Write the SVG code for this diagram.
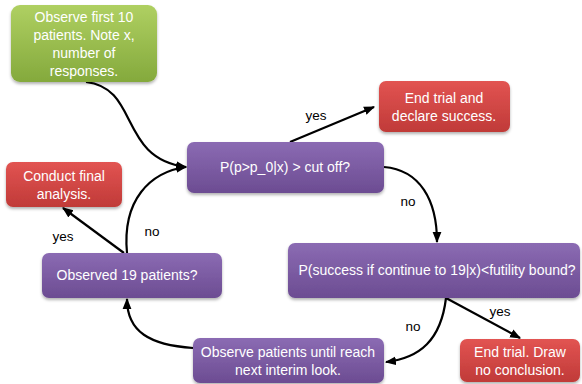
<svg xmlns="http://www.w3.org/2000/svg" width="582" height="384" viewBox="0 0 582 384">
<defs>
<linearGradient id="gGreen" x1="0" y1="0" x2="0" y2="1"><stop offset="0" stop-color="#afd062"/><stop offset="1" stop-color="#84a93c"/></linearGradient>
<linearGradient id="gPurple" x1="0" y1="0" x2="0" y2="1"><stop offset="0" stop-color="#8b6bb3"/><stop offset="1" stop-color="#6c4c92"/></linearGradient>
<linearGradient id="gRed" x1="0" y1="0" x2="0" y2="1"><stop offset="0" stop-color="#e25452"/><stop offset="1" stop-color="#c03a38"/></linearGradient>
<filter id="sh" x="-10%" y="-10%" width="120%" height="130%"><feDropShadow dx="0" dy="2" stdDeviation="1.5" flood-color="#000" flood-opacity="0.3"/></filter>
<marker id="ah" viewBox="0 0 10 10" refX="9" refY="5" markerWidth="5" markerHeight="5" orient="auto-start-reverse" markerUnits="strokeWidth"><path d="M0,1 L10,5 L0,9 Z" fill="#000"/></marker>
<style>
.box{stroke:none;filter:url(#sh)}
.t{font-family:"Liberation Sans",Arial,sans-serif;font-size:14px;fill:#fff;text-anchor:middle}
.lbl{font-family:"Liberation Sans",Arial,sans-serif;font-size:13.5px;fill:#000;text-anchor:middle}
.c{fill:none;stroke:#000;stroke-width:2.2;marker-end:url(#ah)}
</style>
</defs>
<g id="connectors">
<path class="c" d="M86,82 C140,88 118,158 186,167"/>
<path class="c" d="M290,142 L374,107"/>
<path class="c" d="M384,167 C420,170 437,200 437,242"/>
<path class="c" d="M446,298 L520,338"/>
<path class="c" d="M446,298 C441,340 420,358 386,362"/>
<path class="c" d="M193,348 C150,345 127,332 127,299"/>
<path class="c" d="M124,253 L63,208"/>
<path class="c" d="M127,253 C122,200 150,172 186,167"/>
<text class="lbl" x="316" y="120">yes</text>
<text class="lbl" x="408" y="206">no</text>
<text class="lbl" x="500" y="316">yes</text>
<text class="lbl" x="413" y="331">no</text>
<text class="lbl" x="63" y="241">yes</text>
<text class="lbl" x="152" y="236">no</text>
</g>
<g id="n_start">
<rect class="box" x="11" y="5" width="146" height="77" rx="9" fill="url(#gGreen)"/>
<text class="t" x="84" y="22">Observe first 10</text>
<text class="t" x="84" y="40">patients. Note x,</text>
<text class="t" x="84" y="58">number of</text>
<text class="t" x="84" y="76">responses.</text>
</g>
<g id="n_cutoff">
<rect class="box" x="187" y="142" width="197" height="51" rx="7" fill="url(#gPurple)"/>
<text class="t" x="285" y="172">P(p&gt;p_0|x) &gt; cut off?</text>
</g>
<g id="n_success">
<rect class="box" x="379" y="81" width="131" height="51" rx="7" fill="url(#gRed)"/>
<text class="t" x="444" y="103">End trial and</text>
<text class="t" x="444" y="121">declare success.</text>
</g>
<g id="n_final">
<rect class="box" x="6" y="162" width="116" height="45" rx="7" fill="url(#gRed)"/>
<text class="t" x="64" y="181">Conduct final</text>
<text class="t" x="64" y="199">analysis.</text>
</g>
<g id="n_obs19">
<rect class="box" x="42" y="253" width="180" height="45" rx="7" fill="url(#gPurple)"/>
<text class="t" x="127" y="280">Observed 19 patients?</text>
</g>
<g id="n_futility">
<rect class="box" x="288" y="243" width="292" height="55" rx="7" fill="url(#gPurple)"/>
<text class="t" x="437" y="275">P(success if continue to 19|x)&lt;futility bound?</text>
</g>
<g id="n_noconc">
<rect class="box" x="460" y="339" width="120" height="43" rx="7" fill="url(#gRed)"/>
<text class="t" x="520" y="357">End trial. Draw</text>
<text class="t" x="520" y="375">no conclusion.</text>
</g>
<g id="n_observe">
<rect class="box" x="193" y="338" width="191" height="45" rx="7" fill="url(#gPurple)"/>
<text class="t" x="288" y="357">Observe patients until reach</text>
<text class="t" x="288" y="375">next interim look.</text>
</g>
</svg>
